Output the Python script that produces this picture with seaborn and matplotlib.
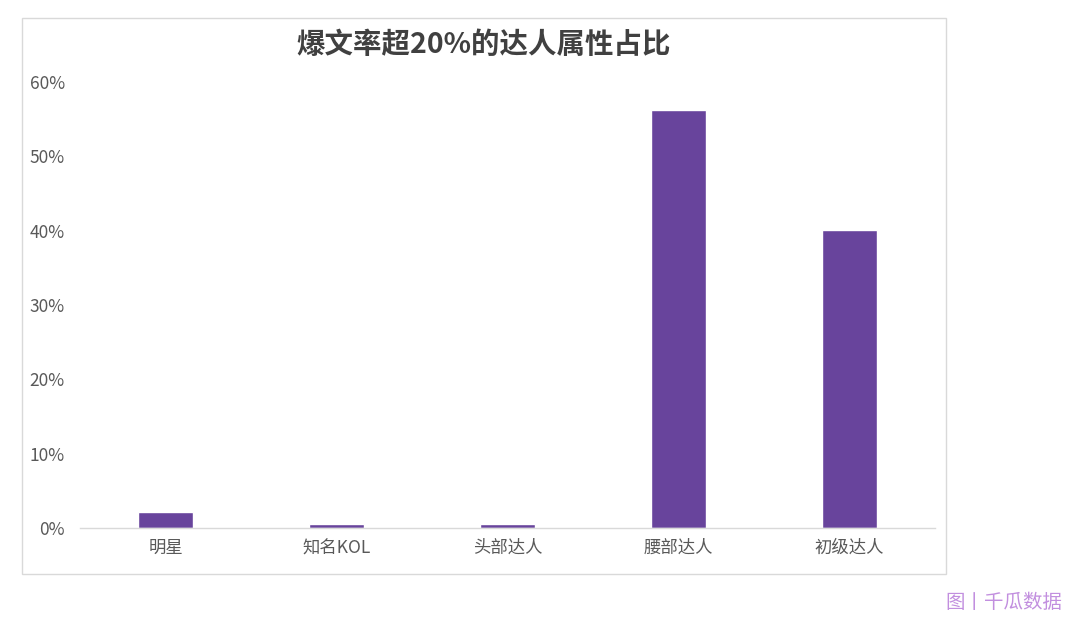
import matplotlib
matplotlib.use("Agg")
import matplotlib.pyplot as plt
from matplotlib.patches import Rectangle
from matplotlib.ticker import FuncFormatter
import seaborn as sns
import pandas as pd

# Data
categories = ["明星", "知名KOL", "头部达人", "腰部达人", "初级达人"]
shares = [2.2, 0.5, 0.5, 56.2, 40.1]

BAR_COLOR = "#68449C"
TEXT_COLOR = "#595959"

sns.set_theme(style="white")
plt.rcParams["font.family"] = ["Noto Sans CJK SC", "DejaVu Sans"]

df = pd.DataFrame({"category": categories, "share": shares})

fig = plt.figure(figsize=(10.8, 6.28), dpi=100)
ax = fig.add_axes([80 / 1080, 100 / 628, 855 / 1080, 446 / 628])

sns.barplot(data=df, x="category", y="share", color=BAR_COLOR,
            width=0.32, saturation=1, ax=ax)

ax.set_ylim(0, 60)
ax.set_xlim(-0.5, 4.5)
ax.set_yticks(range(0, 61, 10))
ax.yaxis.set_major_formatter(FuncFormatter(lambda v, _: f"{v:.0f}%"))
ax.set_xlabel("")
ax.set_ylabel("")
ax.tick_params(axis="both", length=0, labelsize=12.5, colors=TEXT_COLOR)
ax.tick_params(axis="y", pad=11)
ax.tick_params(axis="x", pad=8)

for side in ["top", "right", "left"]:
    ax.spines[side].set_visible(False)
ax.spines["bottom"].set_color("#D9D9D9")
ax.spines["bottom"].set_linewidth(1)

# outer chart frame
fig.patches.append(Rectangle((22 / 1080, 1 - 574 / 628), 924 / 1080, 556 / 628,
                             transform=fig.transFigure, fill=False,
                             edgecolor="#D9D9D9", linewidth=1))

fig.text(484 / 1080, 1 - 45 / 628, "爆文率超20%的达人属性占比",
         ha="center", va="center", fontsize=20.5, fontweight="bold", color="#404040")

fig.text(1062 / 1080, 1 - 602 / 628, "图丨千瓜数据",
         ha="right", va="center", fontsize=14, color="#C28FDF")

fig.savefig("out.png", dpi=100, facecolor="white")
